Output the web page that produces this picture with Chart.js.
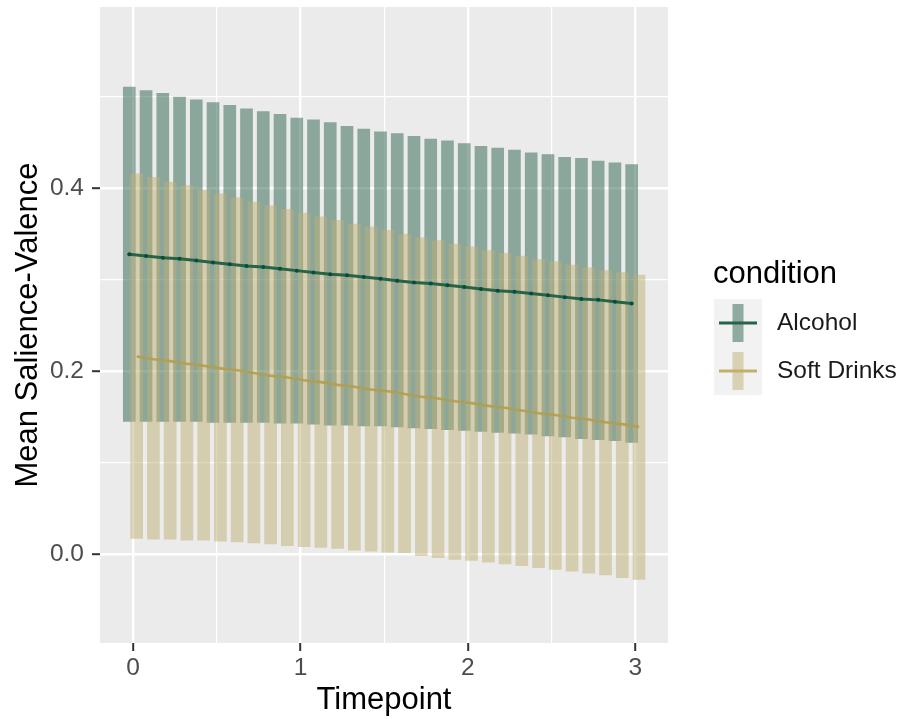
<!DOCTYPE html>
<html>
<head>
<meta charset="utf-8">
<script src="https://cdn.jsdelivr.net/npm/chart.js@4.4.1/dist/chart.umd.min.js"></script>
<style>
  html, body { margin: 0; padding: 0; background: #fff; }
  #wrap { width: 899px; height: 719px; position: relative; }
</style>
</head>
<body>
<div id="wrap"><canvas id="chart"></canvas></div>
<script>
// ===== Data =====
const timepoints = [0, 0.1, 0.2, 0.3, 0.4, 0.5, 0.6, 0.7, 0.8, 0.9, 1.0,
  1.1, 1.2, 1.3, 1.4, 1.5, 1.6, 1.7, 1.8, 1.9, 2.0,
  2.1, 2.2, 2.3, 2.4, 2.5, 2.6, 2.7, 2.8, 2.9, 3.0];

const alcoholMean = [0.328, 0.326, 0.324, 0.323, 0.321, 0.319, 0.317, 0.315, 0.314, 0.312, 0.310,
  0.308, 0.306, 0.305, 0.303, 0.301, 0.299, 0.297, 0.296, 0.294, 0.292,
  0.290, 0.288, 0.287, 0.285, 0.283, 0.281, 0.279, 0.278, 0.276, 0.274];
const alcoholLower = [0.145, 0.145, 0.145, 0.145, 0.145, 0.144, 0.144, 0.144, 0.144, 0.143, 0.143,
  0.142, 0.141, 0.141, 0.140, 0.140, 0.139, 0.138, 0.137, 0.136, 0.135,
  0.134, 0.133, 0.132, 0.131, 0.129, 0.128, 0.126, 0.125, 0.124, 0.122];
const alcoholUpper = [0.511, 0.507, 0.504, 0.500, 0.497, 0.494, 0.491, 0.487, 0.484, 0.481, 0.477,
  0.475, 0.472, 0.468, 0.465, 0.462, 0.460, 0.457, 0.454, 0.452, 0.449,
  0.446, 0.444, 0.442, 0.439, 0.437, 0.434, 0.433, 0.430, 0.428, 0.426];

const softMean = [0.216, 0.213, 0.211, 0.208, 0.206, 0.203, 0.201, 0.198, 0.195, 0.193, 0.190,
  0.188, 0.185, 0.183, 0.180, 0.178, 0.175, 0.172, 0.170, 0.167, 0.165,
  0.162, 0.160, 0.157, 0.154, 0.152, 0.149, 0.147, 0.144, 0.142, 0.139];
const softLower = [0.017, 0.016, 0.016, 0.015, 0.015, 0.014, 0.013, 0.012, 0.011, 0.009, 0.008,
  0.007, 0.006, 0.004, 0.003, 0.002, 0.000, -0.002, -0.004, -0.006, -0.007,
  -0.009, -0.011, -0.013, -0.015, -0.017, -0.019, -0.021, -0.023, -0.026, -0.028];
const softUpper = [0.416, 0.412, 0.407, 0.403, 0.398, 0.394, 0.390, 0.385, 0.381, 0.377, 0.373,
  0.369, 0.365, 0.361, 0.358, 0.354, 0.350, 0.346, 0.343, 0.339, 0.336,
  0.332, 0.329, 0.326, 0.322, 0.320, 0.316, 0.313, 0.310, 0.308, 0.305];

const conditions = ["Alcohol", "Soft Drinks"];
const xMajorTicks = [0, 1, 2, 3];
const yMajorTicks = [0.0, 0.2, 0.4];

// ===== Styles =====
const FONT = "'Liberation Sans', Arial, sans-serif";
const PANEL_BG = "#EBEBEB";
const DODGE = 0.022; // position_dodge half-width, in x units

const ALC_BAR = "rgba(43,98,76,0.5)";
const ALC_LINE = "#25634A";
const ALC_POINT = "#0D4B33";
const SOFT_BAR = "rgba(191,175,115,0.5)";
const SOFT_LINE = "rgba(176,158,80,0.9)";

function isMajor(list, v) {
  return list.some(m => Math.abs(m - v) < 1e-6);
}

function barData(lower, upper, shift) {
  return timepoints.map((t, i) => ({ x: t + shift, y: [lower[i], upper[i]] }));
}

function lineData(mean, shift) {
  return timepoints.map((t, i) => ({ x: t + shift, y: mean[i] }));
}

// ===== Panel background =====
const panelPlugin = {
  id: "panelBg",
  beforeDraw(chart) {
    const { ctx, chartArea: a } = chart;
    ctx.save();
    ctx.fillStyle = PANEL_BG;
    ctx.fillRect(a.left, a.top, a.right - a.left, a.bottom - a.top);
    ctx.restore();
  }
};

// ===== ggplot-style legend =====
const legendKeys = [
  { bar: ALC_BAR, line: ALC_LINE },
  { bar: SOFT_BAR, line: "#C2AF6A" }
];

const legendPlugin = {
  id: "ggLegend",
  afterDraw(chart) {
    const ctx = chart.ctx;
    ctx.save();
    ctx.fillStyle = "#000";
    ctx.font = "31px " + FONT;
    ctx.textBaseline = "alphabetic";
    ctx.fillText("condition", 713, 283);

    ctx.fillStyle = "#F2F2F2";
    ctx.fillRect(714, 299, 48, 96);

    legendKeys.forEach((k, i) => {
      const cy = 323 + i * 48;
      ctx.fillStyle = k.bar;
      ctx.fillRect(732.5, cy - 19, 11, 38);
      ctx.strokeStyle = k.line;
      ctx.lineWidth = 3;
      ctx.beginPath();
      ctx.moveTo(719, cy);
      ctx.lineTo(757, cy);
      ctx.stroke();

      ctx.fillStyle = "#1a1a1a";
      ctx.font = "24.5px " + FONT;
      ctx.textBaseline = "middle";
      ctx.fillText(conditions[i], 777, cy);
    });
    ctx.restore();
  }
};

// ===== Chart =====
const ctx = document.getElementById("chart").getContext("2d");

new Chart(ctx, {
  type: "bar",
  data: {
    datasets: [
      {
        type: "line",
        label: conditions[0],
        data: lineData(alcoholMean, -DODGE),
        borderColor: ALC_LINE,
        borderWidth: 3,
        pointRadius: 2,
        pointBackgroundColor: ALC_POINT,
        pointBorderWidth: 0,
        tension: 0,
        order: 0
      },
      {
        type: "line",
        label: conditions[1],
        data: lineData(softMean, DODGE),
        borderColor: SOFT_LINE,
        borderWidth: 2.6,
        pointRadius: 0,
        tension: 0,
        order: 1
      },
      {
        label: conditions[1] + " CI",
        data: barData(softLower, softUpper, DODGE),
        backgroundColor: SOFT_BAR,
        borderWidth: 0,
        grouped: false,
        barThickness: 12,
        order: 2
      },
      {
        label: conditions[0] + " CI",
        data: barData(alcoholLower, alcoholUpper, -DODGE),
        backgroundColor: ALC_BAR,
        borderWidth: 0,
        grouped: false,
        barThickness: 12,
        order: 3
      }
    ]
  },
  options: {
    responsive: true,
    maintainAspectRatio: false,
    animation: false,
    layout: { padding: { top: 7, right: 231, left: 0, bottom: 0 } },
    plugins: {
      legend: { display: false },
      tooltip: { enabled: false }
    },
    scales: {
      x: {
        type: "linear",
        min: -0.197,
        max: 3.195,
        offset: false,
        border: { display: false },
        grid: {
          offset: false,
          color: "#FFFFFF",
          lineWidth: c => isMajor(xMajorTicks, c.tick.value) ? 2.4 : 1.2,
          tickColor: c => isMajor(xMajorTicks, c.tick.value) ? "#333333" : "rgba(0,0,0,0)",
          tickWidth: 2,
          tickLength: 8
        },
        ticks: {
          stepSize: 0.5,
          includeBounds: false,
          autoSkip: false,
          maxRotation: 0,
          padding: 3,
          color: "#4D4D4D",
          font: { family: FONT, size: 24.5 },
          callback: v => isMajor(xMajorTicks, v) ? String(Math.round(v)) : ""
        },
        title: {
          display: true,
          text: "Timepoint",
          color: "#000",
          font: { family: FONT, size: 31 },
          padding: { top: 0, bottom: 0 }
        },
        afterFit: s => {
          s.height = 76;
          s.paddingLeft = 0;
          s.paddingRight = 0;
        }
      },
      y: {
        min: -0.0975,
        max: 0.5985,
        border: { display: false },
        grid: {
          color: "#FFFFFF",
          lineWidth: c => isMajor(yMajorTicks, c.tick.value) ? 2.4 : 1.2,
          tickColor: c => isMajor(yMajorTicks, c.tick.value) ? "#333333" : "rgba(0,0,0,0)",
          tickWidth: 2,
          tickLength: 8
        },
        ticks: {
          stepSize: 0.1,
          includeBounds: false,
          autoSkip: false,
          padding: 8,
          color: "#4D4D4D",
          font: { family: FONT, size: 24.5 },
          callback: v => isMajor(yMajorTicks, v) ? v.toFixed(1) : ""
        },
        title: {
          display: true,
          text: "Mean Salience-Valence",
          color: "#000",
          font: { family: FONT, size: 31 },
          padding: { top: 10, bottom: 0 }
        },
        afterFit: s => {
          s.width = 100;
          s.paddingTop = 0;
          s.paddingBottom = 0;
        }
      }
    }
  },
  plugins: [panelPlugin, legendPlugin]
});
</script>
</body>
</html>
